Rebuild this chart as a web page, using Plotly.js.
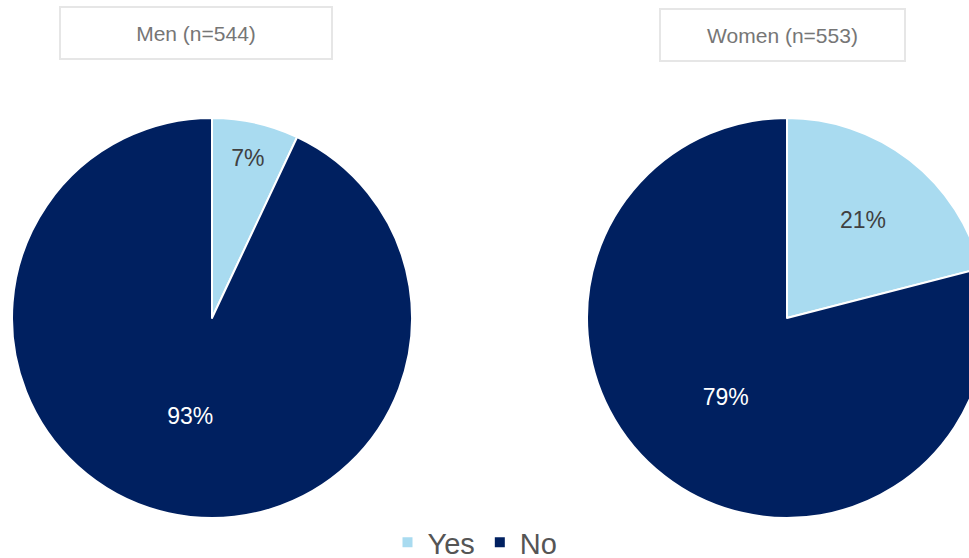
<!DOCTYPE html>
<html><head><meta charset="utf-8">
<script src="https://cdn.plot.ly/plotly-3.0.1.min.js"></script>
<style>html,body{margin:0;padding:0;overflow:hidden;background:#fff;width:969px;height:558px}</style>
</head><body>
<div id="chart"></div>
<script>
const labels = ["Yes", "No"];
const menValues = [7, 93];
const womenValues = [21, 79];
const groupTitles = ["Men (n=544)", "Women (n=553)"];
const colors = ["#a9dbf0", "#002060"];

const W = 1010, H = 568;
function pie(values, x0, x1) {
  return {
    type: "pie", labels: labels, values: values, sort: false,
    direction: "clockwise", rotation: 0,
    marker: {colors: colors, line: {color: "#ffffff", width: 2}},
    textinfo: "percent", texttemplate: "%{value}%",
    textposition: "inside", insidetextorientation: "horizontal",
    insidetextfont: {color: ["#404040", "#ffffff"], size: 23, family: "Liberation Sans, Arial, sans-serif"},
    domain: {x: [x0 / W, x1 / W], y: [(H - 518) / H, (H - 118) / H]},
    hoverinfo: "label+percent"
  };
}
const data = [pie(menValues, 12, 412), pie(womenValues, 587, 987)];
function titleBox(text, cx, cy, w) {
  return {text: text, xref: "paper", yref: "paper", x: cx / W, y: 1 - cy / H,
    xanchor: "center", yanchor: "middle", showarrow: false,
    font: {size: 21, color: "#767676", family: "Liberation Sans, Arial, sans-serif"},
    bordercolor: "#e6e6e6", borderwidth: 2, bgcolor: "#ffffff",
    width: w, height: 48};
}
const layout = {
  width: W, height: H, margin: {l: 0, r: 0, t: 0, b: 0},
  paper_bgcolor: "#ffffff", showlegend: true,
  legend: {orientation: "h", x: 475 / W, xanchor: "center", y: 0, yanchor: "bottom",
    font: {size: 29, color: "#555555", family: "Liberation Sans, Arial, sans-serif"},
    itemwidth: 30, traceorder: "normal"},
  annotations: [titleBox(groupTitles[0], 196, 33, 268), titleBox(groupTitles[1], 782, 35, 241)]
};
Plotly.newPlot("chart", data, layout, {displayModeBar: false, staticPlot: true});
</script>
</body></html>
